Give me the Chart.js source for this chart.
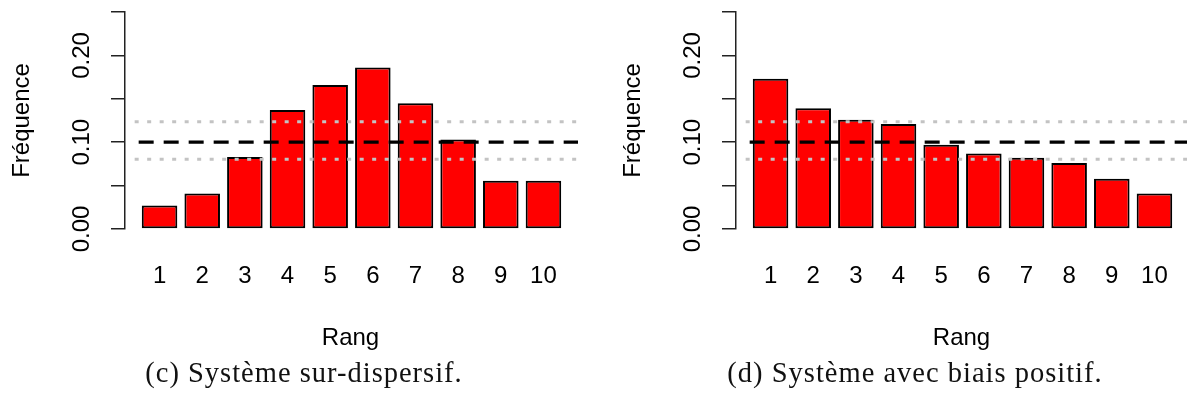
<!DOCTYPE html>
<html>
<head>
<meta charset="utf-8">
<script src="https://cdn.jsdelivr.net/npm/chart.js@4"></script>
<style>
  html, body { margin: 0; padding: 0; background: #fff; overflow: hidden; }
  body { width: 1187px; height: 403px; position: relative; }
  .plot { position: absolute; top: 0; width: 600px; height: 360px; }
  .caption {
    position: absolute;
    top: 359px;
    font-family: "Liberation Serif", serif;
    font-size: 28.5px;
    line-height: 28.5px;
    letter-spacing: 1px;
    color: #111;
    text-align: center;
    white-space: nowrap;
  }
</style>
</head>
<body>
<div class="plot" style="left:0"><canvas id="overChart" width="600" height="360"></canvas></div>
<div class="plot" style="left:611px"><canvas id="biasChart" width="600" height="360"></canvas></div>
<div class="caption" style="left:0; width:608px">(c) Système sur-dispersif.</div>
<div class="caption" style="left:643px; width:544px">(d) Système avec biais positif.</div>

<script>
const ranks = [1, 2, 3, 4, 5, 6, 7, 8, 9, 10];
// (c) sur-dispersif
const overDispersed = [0.027, 0.041, 0.083, 0.137, 0.166, 0.186, 0.145, 0.103, 0.0555, 0.0555];
// (d) biais positif
const positiveBias = [0.173, 0.139, 0.126, 0.121, 0.097, 0.087, 0.082, 0.076, 0.058, 0.041];
const yLabels = [0.0, 0.1, 0.2];
const meanLine = 0.1;
const bandLines = [0.0805, 0.1235];

const FONT = '"Liberation Sans", Arial, sans-serif';

// dashed / dotted reference lines, drawn over the bars
const refLines = {
  id: "refLines",
  afterDatasetsDraw(chart) {
    const { ctx, chartArea, scales } = chart;
    const x0 = scales.x.getPixelForValue(1 - 0.7 / 1.2);
    const x1 = chartArea.right;
    ctx.save();
    ctx.beginPath();
    ctx.rect(chartArea.left, chartArea.top - 5, chartArea.width, chartArea.height + 5);
    ctx.clip();
    ctx.lineCap = "butt";
    ctx.strokeStyle = "#c3c3c3";
    ctx.lineWidth = 3;
    ctx.setLineDash([4, 8.5]);
    bandLines.forEach((v) => {
      const y = scales.y.getPixelForValue(v);
      ctx.beginPath();
      ctx.moveTo(x0, y);
      ctx.lineTo(x1, y);
      ctx.stroke();
    });
    ctx.strokeStyle = "#000";
    ctx.lineWidth = 3.2;
    ctx.setLineDash([15, 10]);
    ctx.lineDashOffset = -4;
    const ym = scales.y.getPixelForValue(meanLine);
    ctx.beginPath();
    ctx.moveTo(x0, ym);
    ctx.lineTo(x1, ym);
    ctx.stroke();
    ctx.restore();
  },
};

// R style rotated y labels and axis titles
const axisText = {
  id: "axisText",
  afterDraw(chart) {
    const { ctx, chartArea, scales } = chart;
    ctx.save();
    ctx.fillStyle = "#000";
    ctx.font = "24px " + FONT;
    ctx.textAlign = "center";
    ctx.textBaseline = "middle";
    yLabels.forEach((v) => {
      ctx.save();
      ctx.translate(chartArea.left - 43, scales.y.getPixelForValue(v));
      ctx.rotate(-Math.PI / 2);
      ctx.fillText(v.toFixed(2), 0, 0);
      ctx.restore();
    });
    ctx.save();
    ctx.translate(chartArea.left - 103, (chartArea.top + chartArea.bottom) / 2);
    ctx.rotate(-Math.PI / 2);
    ctx.fillText("Fréquence", 0, 0);
    ctx.restore();
    ctx.textBaseline = "alphabetic";
    ctx.fillText("Rang", (chartArea.left + chartArea.right) / 2 - 1, 344.5);
    ctx.restore();
  },
};

const makeChart = (id, values) => {
  new Chart(document.getElementById(id), {
    type: "bar",
    data: {
      datasets: [
        {
          data: values.map((v, i) => ({ x: ranks[i], y: v })),
          backgroundColor: "#ff0000",
          borderColor: "#000",
          borderWidth: 2,
          borderSkipped: false,
          categoryPercentage: 1,
          barPercentage: 1 / 1.2,
        },
      ],
    },
    options: {
      responsive: false,
      animation: false,
      events: [],
      layout: { padding: { left: 111, top: 12, right: 22, bottom: 0 } },
      plugins: { legend: { display: false }, tooltip: { enabled: false } },
      scales: {
        x: {
          type: "linear",
          offset: false,
          min: 1 - 0.972 / 1.2,
          max: 10 + 0.972 / 1.2,
          afterBuildTicks: (s) => {
            s.ticks = ranks.map((r) => ({ value: r }));
          },
          afterFit: (s) => {
            s.height = 131;
          },
          grid: { display: false, drawTicks: false },
          border: { display: false },
          ticks: {
            padding: 33,
            color: "#000",
            font: { family: FONT, size: 24 },
            maxRotation: 0,
            autoSkip: false,
          },
        },
        y: {
          min: 0,
          max: 0.25,
          afterFit: (s) => {
            s.width = 14;
          },
          ticks: { stepSize: 0.05, display: false },
          grid: {
            drawOnChartArea: false,
            drawTicks: true,
            tickLength: 14,
            color: "#222",
            lineWidth: 1.5,
          },
          border: { display: true, color: "#222", width: 1.5 },
        },
      },
    },
    plugins: [refLines, axisText],
  });
};

makeChart("overChart", overDispersed);
makeChart("biasChart", positiveBias);
</script>
</body>
</html>
